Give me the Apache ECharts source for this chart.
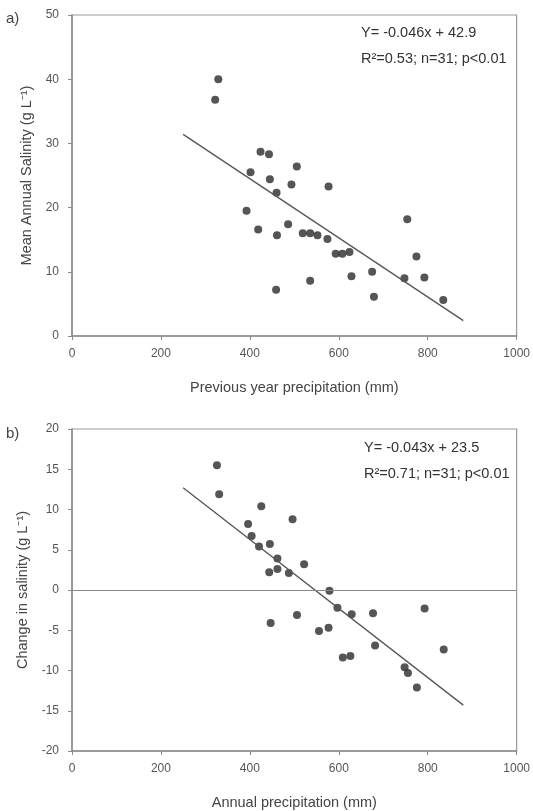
<!DOCTYPE html>
<html>
<head>
<meta charset="utf-8">
<script src="https://cdn.jsdelivr.net/npm/echarts@6/dist/echarts.min.js"></script>
<style>html,body{margin:0;padding:0;background:#fff}#c{width:533px;height:811px}</style>
</head>
<body>
<div id="c"></div>
<script>
// Panel a) previous year precipitation (mm) vs mean annual salinity (g/L)
const precipPrevA = [329,322,424,443,401.5,505.6,445,493.6,577,460,392.5,418.7,486,461,519,535.6,552,574.5,593,608,624,754,774.6,792.5,747.6,675,679,628.5,535.6,459,835];
const salinityA   = [40.0,36.8,28.7,28.3,25.5,26.4,24.4,23.6,23.3,22.3,19.5,16.6,17.4,15.7,16.0,16.0,15.7,15.1,12.8,12.8,13.1,18.2,12.4,9.1,9.0,10.0,6.1,9.3,8.6,7.2,5.6];
const fitA = [[250,31.4],[880,2.4]];
// Panel b) annual precipitation (mm) vs change in salinity (g/L)
const precipB = [326,331,425.7,496,396,404,420.6,445,462,522,462,443.6,487.7,579,597,629,677,793,506,446.7,555.5,577,681.6,609,626,836,748,755.5,775.6];
const changeB = [15.5,11.9,10.4,8.8,8.2,6.7,5.4,5.7,3.9,3.2,2.6,2.2,2.1,-0.1,-2.2,-3.0,-2.9,-2.3,-3.1,-4.1,-5.1,-4.7,-6.9,-8.4,-8.2,-7.4,-9.6,-10.3,-12.1];
const fitB = [[250,12.7],[880,-14.3]];
const xTicks = [0,200,400,600,800,1000];
const yTicksA = [0,10,20,30,40,50];
const yTicksB = [-20,-15,-10,-5,0,5,10,15,20];

const FONT = '"Liberation Sans", Arial, sans-serif';
const zip = (a,b)=>a.map((v,i)=>[v,b[i]]);
const lbl = (m)=>({color:'#555',fontSize:12,fontFamily:FONT,margin:m,formatter:(v)=>String(v)});
const axisCommon = {
  axisLine:{show:true,onZero:false,lineStyle:{color:'#8a8a8a',width:1.5}},
  axisTick:{show:true,length:4,lineStyle:{color:'#8a8a8a'}},
  splitLine:{show:false},
  nameTextStyle:{color:'#444',fontSize:14.5,fontFamily:FONT}
};
const chart = echarts.init(document.getElementById('c'),null,{renderer:'canvas'});
chart.setOption({
  backgroundColor:'#fff',
  animation:false,
  grid:[
    {left:72,right:15,top:15,height:321,show:true,borderColor:'#9a9a9a',borderWidth:1.2},
    {left:72,right:13,top:429,height:322,show:true,borderColor:'#9a9a9a',borderWidth:1.2}
  ],
  xAxis:[
    Object.assign({},axisCommon,{gridIndex:0,type:'value',min:xTicks[0],max:xTicks[xTicks.length-1],interval:200,
      name:'Previous year precipitation (mm)',nameLocation:'middle',nameGap:44,axisLabel:lbl(12)}),
    Object.assign({},axisCommon,{gridIndex:1,type:'value',min:xTicks[0],max:xTicks[xTicks.length-1],interval:200,
      name:'Annual precipitation (mm)',nameLocation:'middle',nameGap:44,axisLabel:lbl(12)})
  ],
  yAxis:[
    Object.assign({},axisCommon,{gridIndex:0,type:'value',min:yTicksA[0],max:yTicksA[yTicksA.length-1],interval:10,
      name:'Mean Annual Salinity (g L⁻¹)',nameLocation:'middle',nameGap:38,axisLabel:lbl(13)}),
    Object.assign({},axisCommon,{gridIndex:1,type:'value',min:yTicksB[0],max:yTicksB[yTicksB.length-1],interval:5,
      name:'Change in salinity (g L⁻¹)',nameLocation:'middle',nameGap:38,axisLabel:lbl(13)})
  ],
  series:[
    {type:'scatter',xAxisIndex:0,yAxisIndex:0,data:zip(precipPrevA,salinityA),symbolSize:8,itemStyle:{color:'#2a2a2a'}},
    {type:'line',xAxisIndex:0,yAxisIndex:0,data:fitA,symbol:'none',lineStyle:{color:'#555',width:1.3}},
    {type:'scatter',xAxisIndex:1,yAxisIndex:1,data:zip(precipB,changeB),symbolSize:8,itemStyle:{color:'#2a2a2a'},
      markLine:{silent:true,symbol:'none',label:{show:false},lineStyle:{color:'#8a8a8a',type:'solid',width:1.2},data:[{yAxis:0}]}},
    {type:'line',xAxisIndex:1,yAxisIndex:1,data:fitB,symbol:'none',lineStyle:{color:'#555',width:1.3}}
  ],
  graphic:[
    {type:'text',left:6,top:11,style:{text:'a)',fontSize:15,fill:'#444',fontFamily:FONT}},
    {type:'text',left:6,top:426,style:{text:'b)',fontSize:15,fill:'#444',fontFamily:FONT}},
    {type:'text',left:361,top:25,style:{text:'Y= -0.046x + 42.9',fontSize:14.5,fill:'#333',fontFamily:FONT}},
    {type:'text',left:361,top:51,style:{text:'R²=0.53; n=31; p<0.01',fontSize:14.5,fill:'#333',fontFamily:FONT}},
    {type:'text',left:364,top:440,style:{text:'Y= -0.043x + 23.5',fontSize:14.5,fill:'#333',fontFamily:FONT}},
    {type:'text',left:364,top:466,style:{text:'R²=0.71; n=31; p<0.01',fontSize:14.5,fill:'#333',fontFamily:FONT}}
  ]
});
</script>
</body>
</html>
